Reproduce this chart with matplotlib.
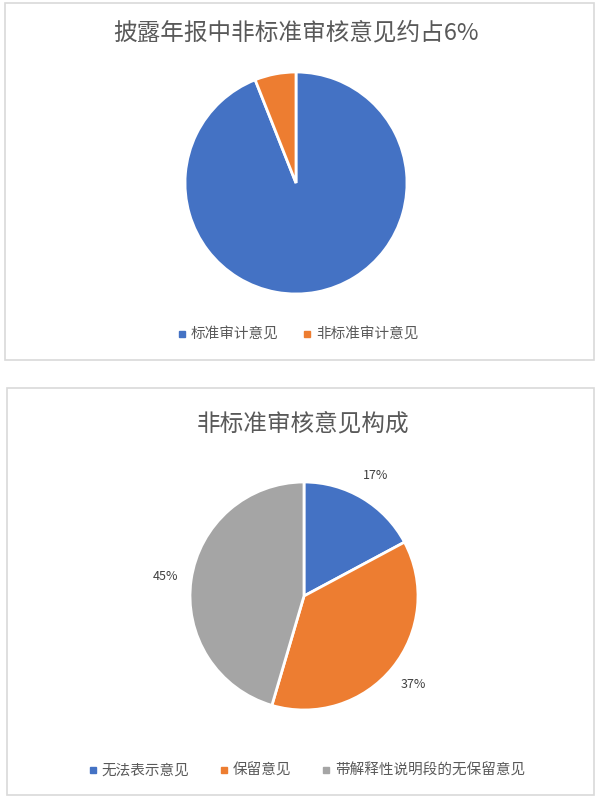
import matplotlib.pyplot as plt
from matplotlib.patches import Rectangle
from matplotlib.lines import Line2D

plt.rcParams['font.family'] = ['Noto Sans CJK SC', 'DejaVu Sans']

# 上图数据
top_title = '披露年报中非标准审核意见约占6%'
top_labels = ['标准审计意见', '非标准审计意见']
top_values = [94, 6]
top_colors = ['#4472C4', '#ED7D31']

# 下图数据
bot_title = '非标准审核意见构成'
bot_labels = ['无法表示意见', '保留意见', '带解释性说明段的无保留意见']
bot_values = [17, 37, 45]
bot_colors = ['#4472C4', '#ED7D31', '#A5A5A5']

W, H = 600, 800
fig = plt.figure(figsize=(6, 8), dpi=100)
fig.patch.set_facecolor('white')


def px_box(x0, y0, x1, y1):
    # 像素坐标(左上为原点) -> figure 坐标
    return [x0 / W, 1 - y1 / H, (x1 - x0) / W, (y1 - y0) / H]


def panel(x0, y0, x1, y1):
    l, b, w, h = px_box(x0, y0, x1, y1)
    fig.patches.append(Rectangle((l, b), w, h, transform=fig.transFigure,
                                 facecolor='none', edgecolor='#D9D9D9',
                                 linewidth=1.2, zorder=-1))


def legend(labels, colors, y, x=0.495, spacing=1.6):
    handles = [Line2D([], [], marker='s', linestyle='none', markersize=4,
                      markerfacecolor=c, markeredgecolor=c) for c in colors]
    fig.legend(handles, labels, loc='center', bbox_to_anchor=(x, 1 - y / H),
               ncol=len(labels), frameon=False, fontsize=10.5, labelcolor='#595959',
               handletextpad=0.2, columnspacing=spacing, handlelength=0.8)


# 面板边框
panel(5, 3, 594, 360)
panel(7, 388, 594, 795)

# 上图
cx, cy, r = 296, 183, 111
ax1 = fig.add_axes(px_box(cx - r, cy - r, cx + r, cy + r))
ax1.pie(top_values, colors=top_colors, startangle=90, counterclock=False,
        wedgeprops=dict(edgecolor='white', linewidth=2))
ax1.set_xlim(-1, 1)
ax1.set_ylim(-1, 1)
fig.text(296 / W, 1 - 33 / H, top_title, ha='center', va='center',
         fontsize=17, color='#595959')
legend(top_labels, top_colors, 335)

# 下图
cx, cy, r = 304, 596, 114
ax2 = fig.add_axes(px_box(cx - r, cy - r, cx + r, cy + r))
wedges, texts, autotexts = ax2.pie(
    bot_values, colors=bot_colors, startangle=90, counterclock=False,
    autopct='%1.0f%%', pctdistance=1.23,
    wedgeprops=dict(edgecolor='white', linewidth=2),
    textprops=dict(fontsize=9, color='#404040'))
ax2.set_xlim(-1, 1)
ax2.set_ylim(-1, 1)
fig.text(303 / W, 1 - 424 / H, bot_title, ha='center', va='center',
         fontsize=17, color='#595959')
legend(bot_labels, bot_colors, 771, x=0.51, spacing=2.0)

fig.savefig('out.png', dpi=100, facecolor='white')
